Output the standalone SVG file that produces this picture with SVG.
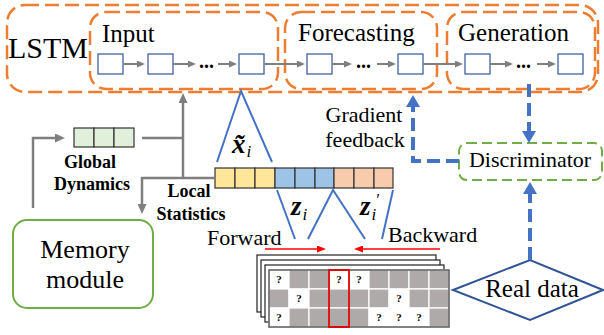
<svg xmlns="http://www.w3.org/2000/svg" width="604" height="335" viewBox="0 0 604 335">
<defs>
<style>
text{font-family:"Liberation Serif","Times New Roman",serif;fill:#000}
.od{fill:none;stroke:#ed7d31;stroke-width:2.5;stroke-dasharray:14 6}
.cell{fill:#fff;stroke:#41619d;stroke-width:1.3}
.ga{stroke:#7f7f7f;stroke-width:2;fill:none}
.gb{stroke:#7f7f7f;stroke-width:2.5;fill:none}
.bl{stroke:#4472c4;stroke-width:2;fill:none}
.bd{stroke:#4472c4;stroke-width:4;fill:none;stroke-dasharray:13 6}
.red{stroke:#ff0000;stroke-width:1.5;fill:none}
.dots{font-size:20px;font-weight:bold}
.bold{font-size:18px;font-weight:bold}
.math{font-size:27px;font-weight:bold;font-style:italic}
.sub{font-size:17px;font-weight:normal;font-style:italic}
.q{font-size:11px;font-weight:bold;text-anchor:middle}
.gc{fill:#aeaaaa;stroke:#fff;stroke-width:1.2}
.wc{fill:#fff;stroke:#fff;stroke-width:1.2}
.sheet{fill:#fff;stroke:#222;stroke-width:1.2}
</style>
<marker id="ag" markerUnits="userSpaceOnUse" markerWidth="8" markerHeight="7" refX="0" refY="3.5" orient="auto"><path d="M0,0 L8,3.5 L0,7 z" fill="#7f7f7f"/></marker>
<marker id="agb" markerUnits="userSpaceOnUse" markerWidth="10" markerHeight="9" refX="0" refY="4.5" orient="auto"><path d="M0,0 L10,4.5 L0,9 z" fill="#7f7f7f"/></marker>
<marker id="ab" markerUnits="userSpaceOnUse" markerWidth="12" markerHeight="14" refX="0" refY="7" orient="auto"><path d="M0,0 L12,7 L0,14 z" fill="#4472c4"/></marker>
<marker id="ar" markerUnits="userSpaceOnUse" markerWidth="9" markerHeight="7" refX="0" refY="3.5" orient="auto"><path d="M0,0 L9,3.5 L0,7 z" fill="#ff0000"/></marker>
</defs>

<g id="lstm">
<rect class="od" x="7" y="5" width="591" height="87" rx="18"/>
<text x="8" y="58" font-size="30">LSTM</text>
</g>

<g id="input">
<rect class="od" x="90" y="12" width="188" height="77" rx="16"/>
<text x="102" y="42" font-size="25">Input</text>
<rect class="cell" x="98" y="54" width="25" height="20"/>
<rect class="cell" x="148" y="54" width="25" height="20"/>
<text class="dots" x="199" y="68">...</text>
<rect class="cell" x="239" y="54" width="25" height="20"/>
</g>

<g id="forecasting">
<rect class="od" x="285" y="12" width="152" height="77" rx="16"/>
<text x="298" y="41" font-size="25">Forecasting</text>
<rect class="cell" x="307" y="54" width="25" height="20"/>
<text class="dots" x="356" y="68">...</text>
<rect class="cell" x="398" y="54" width="25" height="20"/>
</g>

<g id="generation">
<rect class="od" x="447" y="12" width="148" height="77" rx="16"/>
<text x="458" y="41" font-size="25">Generation</text>
<rect class="cell" x="465" y="54" width="25" height="20"/>
<text class="dots" x="516" y="68">...</text>
<rect class="cell" x="558" y="54" width="25" height="20"/>
</g>

<g id="global-dynamics">
<rect x="74" y="128" width="20" height="19" fill="#e2efda" stroke="#333" stroke-width="1.2"/>
<rect x="94" y="128" width="20" height="19" fill="#e2efda" stroke="#333" stroke-width="1.2"/>
<rect x="114" y="128" width="20" height="19" fill="#e2efda" stroke="#333" stroke-width="1.2"/>
<text class="bold" x="90" y="168" text-anchor="middle">Global</text>
<text class="bold" x="92" y="190" text-anchor="middle">Dynamics</text>
</g>

<g id="local-statistics">
<text class="bold" x="189" y="197" text-anchor="middle">Local</text>
<text class="bold" x="191" y="220" text-anchor="middle">Statistics</text>
</g>

<g id="latent-vector">
<g stroke="#333" stroke-width="1.2">
<rect x="215" y="168" width="20" height="20" fill="#ffe699"/>
<rect x="235" y="168" width="20" height="20" fill="#ffe699"/>
<rect x="255" y="168" width="20" height="20" fill="#ffe699"/>
<rect x="275" y="168" width="20" height="20" fill="#9dc3e6"/>
<rect x="295" y="168" width="20" height="20" fill="#9dc3e6"/>
<rect x="315" y="168" width="19" height="20" fill="#9dc3e6"/>
<rect x="334" y="168" width="20" height="20" fill="#f8cbad"/>
<rect x="354" y="168" width="20" height="20" fill="#f8cbad"/>
<rect x="374" y="168" width="19" height="20" fill="#f8cbad"/>
</g>
<text class="math" x="232" y="153">x&#x303;<tspan class="sub" dx="1" dy="4">i</tspan></text>
<text class="math" x="291" y="215">z<tspan class="sub" dx="1" dy="5">i</tspan></text>
<text class="math" x="360" y="215">z<tspan class="sub" dx="1" dy="5">i</tspan><tspan class="sub" dx="-1" dy="-15">′</tspan></text>
</g>

<g id="memory-module">
<rect x="13" y="220" width="140" height="88" rx="14" fill="#fff" stroke="#70ad47" stroke-width="2"/>
<text x="85" y="258" font-size="26" text-anchor="middle">Memory</text>
<text x="85" y="288" font-size="26" text-anchor="middle">module</text>
</g>

<g id="discriminator">
<rect x="459" y="143" width="143" height="37" rx="8" fill="#fff" stroke="#70ad47" stroke-width="2" stroke-dasharray="10 5"/>
<text x="530" y="167" font-size="22" text-anchor="middle">Discriminator</text>
</g>

<g id="real-data">
<polygon points="453,290 530,260 603,290 530,320" fill="#fff" stroke="#2f5597" stroke-width="2"/>
<text x="532" y="297" font-size="25" text-anchor="middle">Real data</text>
</g>

<g id="data-grid">
<rect class="sheet" x="257" y="255" width="179" height="57"/>
<rect class="sheet" x="261" y="260" width="179" height="57"/>
<rect class="sheet" x="265" y="265" width="179" height="57"/>
<rect x="269" y="270" width="180" height="57" fill="#aeaaaa"/>
<g>
<rect class="wc" x="269" y="270" width="20" height="19"/>
<rect class="gc" x="289" y="270" width="20" height="19"/>
<rect class="gc" x="309" y="270" width="20" height="19"/>
<rect class="wc" x="329" y="270" width="20" height="19"/>
<rect class="wc" x="349" y="270" width="20" height="19"/>
<rect class="gc" x="369" y="270" width="20" height="19"/>
<rect class="gc" x="389" y="270" width="20" height="19"/>
<rect class="gc" x="409" y="270" width="20" height="19"/>
<rect class="gc" x="429" y="270" width="20" height="19"/>
<rect class="gc" x="269" y="289" width="20" height="19"/>
<rect class="wc" x="289" y="289" width="20" height="19"/>
<rect class="gc" x="309" y="289" width="20" height="19"/>
<rect class="gc" x="329" y="289" width="20" height="19"/>
<rect class="gc" x="349" y="289" width="20" height="19"/>
<rect class="gc" x="369" y="289" width="20" height="19"/>
<rect class="wc" x="389" y="289" width="20" height="19"/>
<rect class="gc" x="409" y="289" width="20" height="19"/>
<rect class="gc" x="429" y="289" width="20" height="19"/>
<rect class="wc" x="269" y="308" width="20" height="19"/>
<rect class="gc" x="289" y="308" width="20" height="19"/>
<rect class="gc" x="309" y="308" width="20" height="19"/>
<rect class="gc" x="329" y="308" width="20" height="19"/>
<rect class="gc" x="349" y="308" width="20" height="19"/>
<rect class="wc" x="369" y="308" width="20" height="19"/>
<rect class="wc" x="389" y="308" width="20" height="19"/>
<rect class="wc" x="409" y="308" width="20" height="19"/>
<rect class="gc" x="429" y="308" width="20" height="19"/>
</g>
<rect x="269" y="270" width="180" height="57" fill="none" stroke="#595959" stroke-width="1.5"/>
<rect x="329" y="270" width="20" height="57" fill="none" stroke="#e00000" stroke-width="1.8"/>
<text class="q" x="279" y="283">?</text>
<text class="q" x="339" y="283">?</text>
<text class="q" x="359" y="283">?</text>
<text class="q" x="299" y="302">?</text>
<text class="q" x="399" y="302">?</text>
<text class="q" x="279" y="321">?</text>
<text class="q" x="379" y="321">?</text>
<text class="q" x="399" y="321">?</text>
<text class="q" x="419" y="321">?</text>
</g>

<g id="labels">
<text x="207" y="245" font-size="22">Forward</text>
<text x="388" y="242" font-size="22">Backward</text>
<text x="364" y="122" font-size="22" text-anchor="middle">Gradient</text>
<text x="365" y="147" font-size="22" text-anchor="middle">feedback</text>
</g>

<g id="connectors">
<line class="ga" x1="123" y1="64" x2="137" y2="64" marker-end="url(#ag)"/>
<line class="ga" x1="173" y1="64" x2="188" y2="64" marker-end="url(#ag)"/>
<line class="ga" x1="218" y1="64" x2="229" y2="64" marker-end="url(#ag)"/>
<line class="ga" x1="264" y1="64" x2="297" y2="64" marker-end="url(#ag)"/>
<line class="ga" x1="332" y1="64" x2="344" y2="64" marker-end="url(#ag)"/>
<line class="ga" x1="377" y1="64" x2="388" y2="64" marker-end="url(#ag)"/>
<line class="ga" x1="423" y1="64" x2="455" y2="64" marker-end="url(#ag)"/>
<line class="ga" x1="490" y1="64" x2="505" y2="64" marker-end="url(#ag)"/>
<line class="ga" x1="537" y1="64" x2="548" y2="64" marker-end="url(#ag)"/>
<path class="gb" d="M33,208 V138 H55" marker-end="url(#agb)"/>
<path class="gb" d="M142,138 H183"/>
<path class="gb" d="M215,178 H142 V204" marker-end="url(#agb)"/>
<path class="gb" d="M183,178 V103" marker-end="url(#agb)"/>
<polyline class="bl" points="217,162 241,91 272,162"/>
<line class="bl" x1="277" y1="190" x2="295" y2="239"/>
<polyline class="bl" points="308,239 333,190 365,239"/>
<line class="bl" x1="393" y1="190" x2="382" y2="239"/>
<line class="red" x1="265" y1="249" x2="317" y2="249" marker-end="url(#ar)"/>
<line class="red" x1="440" y1="249" x2="363" y2="249" marker-end="url(#ar)"/>
<path class="bd" d="M529,84 V131" marker-end="url(#ab)"/>
<path class="bd" d="M459,161 H413 V107" marker-end="url(#ab)"/>
<path class="bd" d="M530,260 V194" marker-end="url(#ab)"/>
</g>
</svg>
